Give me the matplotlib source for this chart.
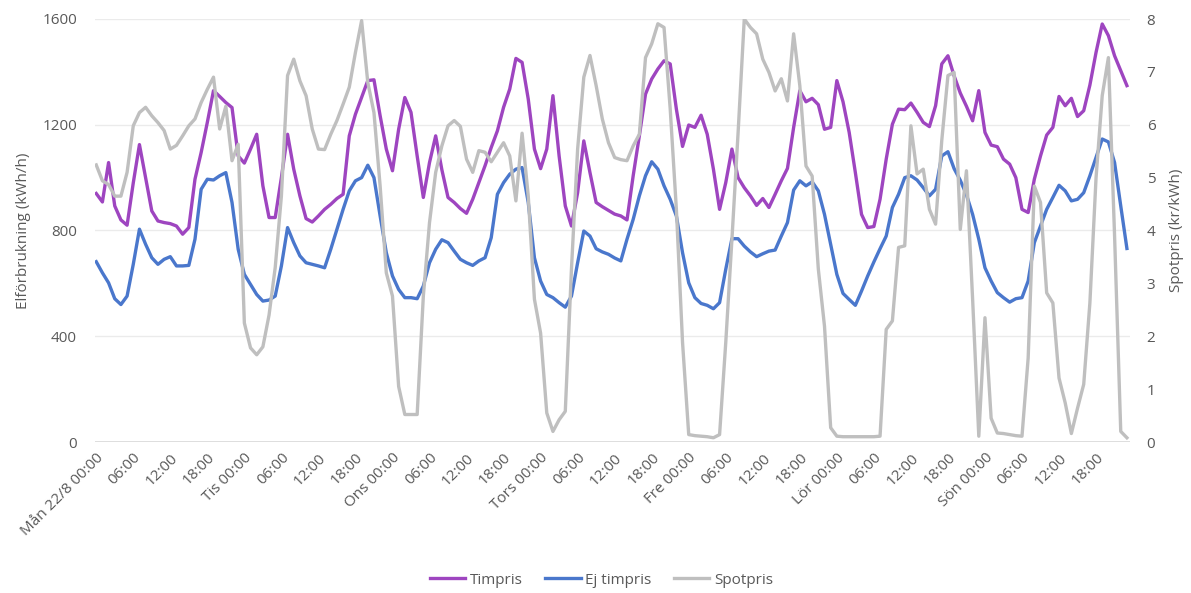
import matplotlib
matplotlib.use("Agg")
import matplotlib.pyplot as plt
import numpy as np

timpris = [940, 908, 1057, 893, 840, 820, 980, 1125, 1000, 874, 836, 830, 826, 817, 786, 811,
           994, 1095, 1209, 1329, 1307, 1284, 1265, 1082, 1055, 1108, 1164, 969, 849, 849, 1000, 1164,
           1032, 931, 845, 832, 855, 880, 899, 921, 937, 1158, 1240, 1303, 1367, 1370, 1234, 1108,
           1026, 1183, 1303, 1247, 1082, 925, 1057, 1158, 1030, 925, 906, 883, 865, 918, 981, 1045,
           1114, 1177, 1266, 1335, 1451, 1436, 1297, 1108, 1034, 1108, 1310, 1082, 893, 817, 943, 1139,
           1019, 906, 890, 876, 862, 855, 840, 1007, 1158, 1316, 1373, 1411, 1442, 1430, 1259, 1118,
           1199, 1190, 1236, 1164, 1032, 880, 981, 1108, 1000, 962, 931, 895, 921, 887, 937, 988,
           1035, 1190, 1329, 1287, 1300, 1276, 1183, 1190, 1367, 1287, 1171, 1019, 861, 811, 815, 918,
           1070, 1202, 1259, 1257, 1282, 1247, 1209, 1193, 1272, 1430, 1461, 1385, 1320, 1270, 1215, 1329,
           1171, 1123, 1117, 1070, 1051, 1000, 880, 868, 994, 1082, 1161, 1190, 1307, 1272, 1300, 1231,
           1253, 1350, 1474, 1581, 1537, 1461, 1404, 1348]

ej_timpris = [682, 640, 602, 542, 520, 552, 672, 805, 748, 697, 672, 691, 701, 666, 666, 668,
              767, 956, 994, 991, 1007, 1019, 906, 729, 634, 596, 558, 533, 537, 552, 666, 811,
              754, 704, 678, 672, 666, 659, 729, 805, 880, 950, 988, 1000, 1047, 1000, 855, 716,
              628, 577, 546, 546, 542, 590, 678, 729, 765, 754, 722, 691, 678, 668, 685, 697,
              773, 937, 981, 1013, 1032, 1038, 906, 697, 609, 558, 546, 527, 510, 552, 678, 798,
              779, 731, 719, 710, 696, 685, 767, 842, 931, 1007, 1060, 1032, 969, 918, 855, 716,
              602, 546, 524, 517, 504, 527, 653, 769, 769, 741, 719, 701, 712, 722, 726, 779,
              830, 953, 988, 969, 984, 950, 861, 748, 634, 562, 539, 517, 571, 628, 681, 731,
              779, 887, 937, 1000, 1007, 991, 962, 931, 956, 1082, 1098, 1034, 990, 935, 861, 767,
              659, 609, 565, 546, 529, 542, 546, 609, 754, 817, 880, 925, 971, 950, 912, 918,
              943, 1007, 1076, 1146, 1135, 1057, 893, 732]

spotpris = [5.24, 4.94, 4.87, 4.65, 4.65, 5.10, 5.98, 6.23, 6.33, 6.17, 6.04, 5.89, 5.54, 5.61, 5.79, 5.98,
            6.11, 6.42, 6.67, 6.90, 5.92, 6.35, 5.32, 5.63, 2.25, 1.78, 1.65, 1.80, 2.40, 3.30, 4.65, 6.93,
            7.24, 6.83, 6.55, 5.92, 5.54, 5.53, 5.82, 6.08, 6.39, 6.71, 7.37, 7.97, 6.80, 6.23, 4.84, 3.20,
            2.76, 1.05, 0.52, 0.52, 0.52, 2.76, 4.15, 5.10, 5.60, 5.98, 6.08, 5.97, 5.35, 5.10, 5.51, 5.48,
            5.30, 5.48, 5.66, 5.41, 4.56, 5.84, 4.65, 2.70, 2.06, 0.55, 0.20, 0.42, 0.58, 3.27, 5.54, 6.90,
            7.31, 6.74, 6.11, 5.66, 5.38, 5.34, 5.32, 5.60, 5.82, 7.27, 7.53, 7.91, 7.84, 6.30, 4.40, 1.88,
            0.14, 0.12, 0.11, 0.10, 0.08, 0.14, 1.88, 3.83, 5.85, 8.00, 7.84, 7.72, 7.24, 6.99, 6.64, 6.87,
            6.45, 7.72, 6.74, 5.22, 5.03, 3.27, 2.19, 0.27, 0.11, 0.10, 0.10, 0.10, 0.10, 0.10, 0.10, 0.11,
            2.13, 2.29, 3.68, 3.71, 5.98, 5.07, 5.16, 4.40, 4.12, 5.70, 6.93, 6.99, 4.02, 5.13, 2.70, 0.11,
            2.35, 0.45, 0.17, 0.16, 0.14, 0.12, 0.11, 1.59, 4.84, 4.53, 2.82, 2.63, 1.21, 0.74, 0.16, 0.64,
            1.09, 2.63, 5.00, 6.55, 7.27, 3.90, 0.20, 0.08]

days = ["Mån 22/8", "Tis", "Ons", "Tors", "Fre", "Lör", "Sön"]
hours = ["00:00", "06:00", "12:00", "18:00"]
tick_labels = []
for d in days:
    for h in hours:
        tick_labels.append(f"{d} {h}" if h == "00:00" else h)

plt.rcParams['font.family'] = ['Open Sans', 'DejaVu Sans']

W, H = 1191, 593
fig = plt.figure(figsize=(W / 100, H / 100), dpi=100)
left, right, top, bottom = 95, 1130, 19, 442
ax = fig.add_axes([left / W, 1 - bottom / H, (right - left) / W, (bottom - top) / H])
ax2 = ax.twinx()

x = np.arange(len(timpris))
c_tim = "#9E45C0"
c_ej = "#4A77CC"
c_spot = "#BFBFBF"
lw = 2.4

l1, = ax.plot(x, timpris, color=c_tim, lw=lw, solid_joinstyle='round', label="Timpris")
l2, = ax.plot(x, ej_timpris, color=c_ej, lw=lw, solid_joinstyle='round', label="Ej timpris")
l3, = ax2.plot(x, spotpris, color=c_spot, lw=lw, solid_joinstyle='round', label="Spotpris")

ax.set_xlim(-0.2, 167.5)
ax.set_ylim(0, 1600)
ax2.set_ylim(0, 8)
ax.set_yticks([0, 400, 800, 1200, 1600])
ax2.set_yticks(range(0, 9))

ax.set_xticks(np.arange(0, len(timpris), 6))
ax.set_xticklabels(tick_labels, rotation=45, ha='right', rotation_mode='anchor')

txt = "#595959"
fs = 11
for a in (ax, ax2):
    for s in a.spines.values():
        s.set_visible(False)
    a.tick_params(length=0, colors=txt, labelsize=fs)
ax.tick_params(axis='x', pad=6)
ax.tick_params(axis='y', pad=13)
ax2.tick_params(axis='y', pad=12)

ax.grid(axis='y', color="#EBEBEB", lw=1)
ax.set_axisbelow(True)
ax.axhline(0, color="#D9D9D9", lw=1.2, zorder=1)

ax.set_ylabel("Elförbrukning (kWh/h)", color=txt, fontsize=fs, labelpad=8)
ax2.set_ylabel("Spotpris (kr/kWh)", color=txt, fontsize=fs, labelpad=10)

fig.legend(handles=[l1, l2, l3], loc='center', bbox_to_anchor=(0.505, 1 - 580 / H),
           ncol=3, frameon=False, fontsize=fs, handlelength=2.3, columnspacing=1.5,
           handletextpad=0.3, labelcolor=txt)

fig.savefig("out.png", dpi=100)
